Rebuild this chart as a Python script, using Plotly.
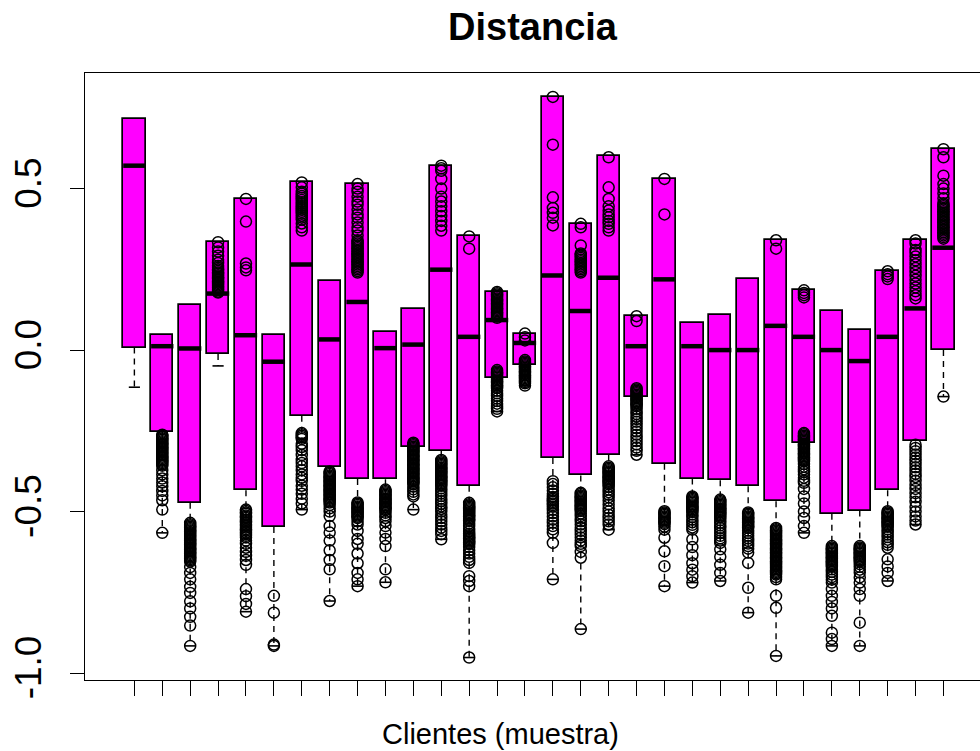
import plotly.graph_objects as go

# Boxplot de distancias por cliente (muestra de 30 clientes)
clientes = list(range(1, 31))

q1 = [0.008, -0.254, -0.473, -0.012, -0.434, -0.548, -0.203, -0.363, -0.399, -0.400,
      -0.300, -0.311, -0.420, -0.087, -0.046, -0.334, -0.388, -0.324, -0.144, -0.352,
      -0.398, -0.403, -0.422, -0.468, -0.288, -0.507, -0.497, -0.434, -0.283, 0.000]
mediana = [0.571, 0.012, 0.005, 0.175, 0.046, -0.036, 0.265, 0.033, 0.149, 0.006,
           0.017, 0.249, 0.041, 0.093, 0.022, 0.231, 0.121, 0.224, 0.012, 0.219,
           0.012, 0.000, 0.000, 0.075, 0.041, 0.000, -0.034, 0.041, 0.129, 0.317]
q3 = [0.715, 0.046, 0.139, 0.334, 0.468, 0.046, 0.519, 0.214, 0.514, 0.057,
      0.126, 0.571, 0.352, 0.180, 0.051, 0.784, 0.391, 0.600, 0.105, 0.530,
      0.085, 0.108, 0.219, 0.340, 0.185, 0.121, 0.062, 0.244, 0.340, 0.622]
bigote_inf = [-0.115, -0.566, -0.916, -0.049, -0.810, -0.916, -0.494, -0.777, -0.731, -0.719,
              -0.494, -0.586, -0.952, -0.190, -0.110, -0.710, -0.864, -0.556, -0.324, -0.731,
              -0.720, -0.715, -0.813, -0.947, -0.566, -0.916, -0.916, -0.715, -0.540, -0.144]

# Observaciones marcadas sobre cada caja
puntos = [
    [],
    [-0.262, -0.266, -0.27, -0.274, -0.278, -0.282, -0.286, -0.29, -0.294, -0.298, -0.302, -0.306,
     -0.31, -0.314, -0.318, -0.322, -0.326, -0.33, -0.334, -0.338, -0.342, -0.346, -0.35, -0.354,
     -0.358, -0.372, -0.385, -0.398, -0.41, -0.422, -0.436, -0.45, -0.465, -0.494, -0.566],
    [-0.535, -0.539, -0.543, -0.547, -0.551, -0.555, -0.559, -0.563, -0.567, -0.571, -0.575,
     -0.579, -0.583, -0.587, -0.591, -0.595, -0.599, -0.603, -0.607, -0.611, -0.615, -0.619,
     -0.623, -0.627, -0.631, -0.635, -0.639, -0.643, -0.647, -0.651, -0.655, -0.672, -0.69,
     -0.71, -0.733, -0.752, -0.778, -0.8, -0.826, -0.853, -0.916],
    [0.334, 0.318, 0.305, 0.292, 0.28, 0.27, 0.26, 0.255, 0.25, 0.245, 0.24, 0.236, 0.232, 0.228,
     0.224, 0.22, 0.216, 0.212, 0.208, 0.204, 0.2, 0.196, 0.192, 0.188, 0.185, 0.181, 0.178],
    [0.468, 0.398, 0.268, 0.256, 0.247, -0.494, -0.498, -0.503, -0.507, -0.512, -0.516, -0.52,
     -0.525, -0.53, -0.535, -0.54, -0.545, -0.55, -0.555, -0.56, -0.565, -0.57, -0.575, -0.58,
     -0.59, -0.6, -0.612, -0.625, -0.637, -0.65, -0.665, -0.74, -0.762, -0.786, -0.81],
    [-0.761, -0.813, -0.912, -0.916],
    [0.519, 0.504, 0.49, 0.484, 0.477, 0.471, 0.465, 0.458, 0.452, 0.446, 0.44, 0.434, 0.428,
     0.422, 0.416, 0.41, 0.404, 0.392, 0.38, 0.37,
     -0.257, -0.261, -0.265, -0.27, -0.275, -0.29, -0.3, -0.31, -0.325, -0.34, -0.35, -0.36,
     -0.372, -0.385, -0.395, -0.405, -0.42, -0.432, -0.445, -0.46, -0.475, -0.494],
    [-0.376, -0.38, -0.384, -0.388, -0.392, -0.396, -0.4, -0.404, -0.408, -0.412, -0.416, -0.42,
     -0.424, -0.428, -0.432, -0.436, -0.44, -0.444, -0.448, -0.452, -0.456, -0.46, -0.464,
     -0.468, -0.472, -0.48, -0.49, -0.5, -0.514, -0.545, -0.565, -0.59, -0.62, -0.65, -0.679,
     -0.777],
    [0.514, 0.5, 0.49, 0.475, 0.46, 0.45, 0.435, 0.42, 0.41, 0.395, 0.38, 0.37, 0.355, 0.34, 0.335,
     0.33, 0.325, 0.32, 0.315, 0.31, 0.305, 0.3, 0.295, 0.29, 0.285, 0.28, 0.275, 0.27, 0.265,
     0.26, 0.255, 0.25, 0.245, 0.24,
     -0.472, -0.476, -0.48, -0.484, -0.488, -0.492, -0.496, -0.5, -0.504, -0.508, -0.512, -0.516,
     -0.52, -0.53, -0.54, -0.56, -0.585, -0.6, -0.63, -0.66, -0.69, -0.71, -0.731],
    [-0.432, -0.436, -0.44, -0.444, -0.448, -0.452, -0.456, -0.46, -0.464, -0.468, -0.472,
     -0.476, -0.48, -0.484, -0.488, -0.492, -0.496, -0.504, -0.512, -0.52, -0.53, -0.545, -0.565,
     -0.585, -0.607, -0.679, -0.719],
    [-0.287, -0.291, -0.295, -0.299, -0.303, -0.307, -0.311, -0.315, -0.319, -0.323, -0.327,
     -0.331, -0.335, -0.339, -0.343, -0.347, -0.351, -0.355, -0.359, -0.363, -0.367, -0.371,
     -0.375, -0.379, -0.383, -0.387, -0.391, -0.395, -0.399, -0.403, -0.407, -0.411, -0.415,
     -0.423, -0.431, -0.439, -0.447, -0.453, -0.494],
    [0.571, 0.563, 0.555, 0.53, 0.5, 0.475, 0.46, 0.445, 0.43, 0.415, 0.4, 0.385, 0.37,
     -0.34, -0.344, -0.348, -0.352, -0.356, -0.36, -0.364, -0.368, -0.372, -0.376, -0.38, -0.384,
     -0.388, -0.392, -0.396, -0.4, -0.404, -0.408, -0.412, -0.416, -0.42, -0.428, -0.436, -0.444,
     -0.452, -0.46, -0.468, -0.476, -0.484, -0.492, -0.5, -0.51, -0.52, -0.53, -0.54, -0.55,
     -0.56, -0.57, -0.586],
    [0.352, 0.314, -0.473, -0.477, -0.481, -0.485, -0.489, -0.493, -0.497, -0.501, -0.505, -0.509,
     -0.513, -0.517, -0.521, -0.525, -0.529, -0.537, -0.545, -0.553, -0.561, -0.569, -0.573,
     -0.577, -0.581, -0.585, -0.589, -0.593, -0.597, -0.601, -0.61, -0.62, -0.63, -0.64, -0.65,
     -0.659, -0.7, -0.715, -0.731, -0.952],
    [0.18, 0.176, 0.172, 0.168, 0.164, 0.16, 0.156, 0.152, 0.148, 0.144, 0.14, 0.136, 0.132,
     0.128, 0.124, 0.12, 0.116, 0.112, 0.108, 0.104, 0.1,
     -0.062, -0.066, -0.07, -0.074, -0.078, -0.082, -0.086, -0.09, -0.094, -0.098, -0.102,
     -0.106, -0.11, -0.114, -0.118, -0.126, -0.134, -0.142, -0.15, -0.158, -0.166, -0.174,
     -0.182, -0.19],
    [0.051, 0.04, 0.03, -0.031, -0.035, -0.039, -0.043, -0.047, -0.051, -0.055, -0.059, -0.063,
     -0.067, -0.071, -0.075, -0.079, -0.083, -0.087, -0.091, -0.095, -0.099, -0.103, -0.11],
    [0.784, 0.636, 0.473, 0.44, 0.425, 0.41, 0.386, -0.406, -0.415, -0.425, -0.435, -0.445, -0.455,
     -0.46, -0.465, -0.47, -0.475, -0.48, -0.485, -0.495, -0.505, -0.515, -0.525, -0.535, -0.545,
     -0.555, -0.566, -0.597, -0.71],
    [0.391, 0.38, 0.324, 0.299, 0.295, 0.29, 0.285, 0.28, 0.275, 0.27, 0.265, 0.26, 0.255, 0.25,
     0.245, 0.24, -0.442, -0.446, -0.45, -0.454, -0.458, -0.462, -0.466, -0.47, -0.474, -0.478,
     -0.482, -0.486, -0.49, -0.494, -0.498, -0.506, -0.514, -0.522, -0.53, -0.54, -0.55, -0.56,
     -0.57, -0.58, -0.59, -0.6, -0.607, -0.625, -0.643, -0.864],
    [0.597, 0.504, 0.468, 0.445, 0.432, 0.42, 0.411, 0.4, 0.391, 0.38, 0.37, -0.36, -0.364, -0.368,
     -0.372, -0.376, -0.38, -0.384, -0.388, -0.392, -0.396, -0.4, -0.404, -0.408, -0.412, -0.416,
     -0.424, -0.432, -0.44, -0.448, -0.456, -0.466, -0.478, -0.49, -0.5, -0.51, -0.52, -0.53,
     -0.54, -0.556],
    [0.105, 0.09, -0.118, -0.122, -0.126, -0.13, -0.134, -0.138, -0.142, -0.146, -0.15, -0.154,
     -0.158, -0.162, -0.166, -0.17, -0.174, -0.182, -0.19, -0.198, -0.206, -0.214, -0.222,
     -0.232, -0.242, -0.252, -0.262, -0.272, -0.282, -0.292, -0.302, -0.312, -0.324],
    [0.53, 0.42, -0.499, -0.503, -0.507, -0.511, -0.515, -0.519, -0.523, -0.527, -0.531, -0.535,
     -0.539, -0.547, -0.556, -0.581, -0.623, -0.669, -0.731],
    [-0.453, -0.457, -0.461, -0.465, -0.469, -0.473, -0.477, -0.481, -0.485, -0.489, -0.493,
     -0.497, -0.501, -0.509, -0.517, -0.525, -0.533, -0.541, -0.549, -0.556, -0.586, -0.61,
     -0.635, -0.66, -0.68, -0.7, -0.72],
    [-0.463, -0.467, -0.471, -0.475, -0.479, -0.483, -0.487, -0.491, -0.495, -0.499, -0.503,
     -0.507, -0.511, -0.515, -0.519, -0.527, -0.535, -0.543, -0.551, -0.559, -0.567, -0.575,
     -0.583, -0.59, -0.597, -0.617, -0.64, -0.665, -0.69, -0.715],
    [-0.503, -0.507, -0.511, -0.515, -0.519, -0.523, -0.527, -0.531, -0.535, -0.539, -0.543,
     -0.547, -0.551, -0.559, -0.567, -0.575, -0.583, -0.591, -0.599, -0.607, -0.615, -0.627,
     -0.659, -0.736, -0.813],
    [0.34, 0.314, -0.551, -0.555, -0.559, -0.563, -0.567, -0.571, -0.575, -0.579, -0.583, -0.587,
     -0.591, -0.595, -0.599, -0.603, -0.607, -0.611, -0.615, -0.619, -0.623, -0.627, -0.631,
     -0.635, -0.639, -0.643, -0.647, -0.651, -0.655, -0.659, -0.663, -0.667, -0.671, -0.675,
     -0.679, -0.683, -0.687, -0.691, -0.695, -0.703, -0.71, -0.761, -0.798, -0.947],
    [0.185, 0.177, 0.17, 0.163, -0.257, -0.261, -0.265, -0.269, -0.273, -0.277, -0.281, -0.285,
     -0.289, -0.293, -0.297, -0.301, -0.305, -0.309, -0.313, -0.317, -0.321, -0.325, -0.329,
     -0.333, -0.337, -0.341, -0.345, -0.353, -0.361, -0.369, -0.377, -0.385, -0.395, -0.405,
     -0.411, -0.43, -0.453, -0.475, -0.5, -0.52, -0.545, -0.566],
    [-0.607, -0.611, -0.615, -0.619, -0.623, -0.627, -0.631, -0.635, -0.639, -0.643, -0.647,
     -0.651, -0.655, -0.659, -0.663, -0.667, -0.671, -0.679, -0.687, -0.695, -0.703, -0.711,
     -0.72, -0.74, -0.761, -0.78, -0.8, -0.823, -0.875, -0.895, -0.916],
    [-0.607, -0.611, -0.615, -0.619, -0.623, -0.627, -0.631, -0.635, -0.639, -0.643, -0.647,
     -0.651, -0.655, -0.663, -0.671, -0.68, -0.689, -0.704, -0.72, -0.74, -0.761, -0.844, -0.916],
    [0.244, 0.235, 0.228, 0.22, -0.499, -0.503, -0.507, -0.511, -0.515, -0.519, -0.523, -0.527,
     -0.531, -0.535, -0.539, -0.543, -0.547, -0.555, -0.563, -0.571, -0.579, -0.587, -0.595,
     -0.603, -0.612, -0.648, -0.67, -0.69, -0.715],
    [0.34, 0.33, 0.31, 0.302, 0.29, 0.278, 0.266, 0.254, 0.242, 0.23, 0.218, 0.206, 0.194, 0.182,
     0.17, 0.16, -0.293, -0.303, -0.313, -0.323, -0.333, -0.343, -0.353, -0.363, -0.373, -0.383,
     -0.393, -0.405, -0.418, -0.43, -0.443, -0.456, -0.47, -0.485, -0.5, -0.515, -0.528, -0.54],
    [0.622, 0.597, 0.54, 0.514, 0.5, 0.485, 0.47, 0.455, 0.45, 0.445, 0.44, 0.435, 0.43, 0.425,
     0.42, 0.415, 0.41, 0.405, 0.4, 0.395, 0.39, 0.385, 0.38, 0.375, 0.37, 0.365, 0.36, 0.355,
     0.35, 0.345, -0.144],
]

ticks_y = [-1.0, -0.5, 0.0, 0.5]
etiquetas_y = ["-1.0", "-0.5", "0.0", "0.5"]

ANCHO_CAJA = 0.8
ANCHO_TOPE = 0.4
MAGENTA = "#FF00FF"
FUENTE = "Liberation Sans, Arial, sans-serif"

fig = go.Figure()

# Cajas (Q1 a Q3)
fig.add_trace(go.Bar(
    x=clientes, base=q1, y=[b - a for a, b in zip(q1, q3)], width=ANCHO_CAJA,
    marker=dict(color=MAGENTA, line=dict(color="black", width=1.7)),
    hoverinfo="skip", showlegend=False,
))

# Bigotes inferiores discontinuos y sus topes
bx, by, tx, ty = [], [], [], []
for c, a, w in zip(clientes, q1, bigote_inf):
    bx += [c, c, None]
    by += [a, w, None]
    tx += [c - ANCHO_TOPE / 2, c + ANCHO_TOPE / 2, None]
    ty += [w, w, None]
fig.add_trace(go.Scatter(x=bx, y=by, mode="lines",
                         line=dict(color="black", width=1.4, dash="6px,5px"),
                         hoverinfo="skip", showlegend=False))
fig.add_trace(go.Scatter(x=tx, y=ty, mode="lines",
                         line=dict(color="black", width=1.6),
                         hoverinfo="skip", showlegend=False))

# Medianas
mx, my = [], []
for c, m in zip(clientes, mediana):
    mx += [c - ANCHO_CAJA / 2, c + ANCHO_CAJA / 2, None]
    my += [m, m, None]
fig.add_trace(go.Scatter(x=mx, y=my, mode="lines",
                         line=dict(color="black", width=4.5),
                         hoverinfo="skip", showlegend=False))

# Puntos individuales
px_, py_ = [], []
for c, vals in zip(clientes, puntos):
    px_ += [c] * len(vals)
    py_ += vals
fig.add_trace(go.Scatter(x=px_, y=py_, mode="markers",
                         marker=dict(symbol="circle-open", size=11, color="black",
                                     line=dict(width=1.5, color="black")),
                         showlegend=False))

fig.update_layout(
    width=980, height=751,
    margin=dict(l=85, r=0, t=73, b=71),
    paper_bgcolor="white", plot_bgcolor="white",
    font=dict(family=FUENTE, color="black"),
    title=dict(text="<b>Distancia</b>", x=0.5, xref="paper", xanchor="center",
               y=1 - 27 / 751, yref="container", yanchor="middle",
               font=dict(size=38, family=FUENTE, color="black")),
    bargap=0,
    annotations=[dict(
        text="Clientes (muestra)", xref="paper", yref="paper",
        x=(500 - 85) / 895, y=-(734 - 680) / 607, xanchor="center", yanchor="middle",
        showarrow=False, font=dict(size=29, family=FUENTE, color="black"),
    )],
)

fig.update_xaxes(
    range=[-0.77, 31.31], tickvals=clientes, showticklabels=False,
    ticks="outside", ticklen=15, tickwidth=1.3, tickcolor="black",
    showline=True, linecolor="black", linewidth=1.3, mirror=True,
    showgrid=False, zeroline=False,
)
fig.update_yaxes(
    range=[-1.0216, 0.858], tickvals=ticks_y, ticktext=etiquetas_y, tickangle=-90,
    tickfont=dict(size=37),
    ticks="outside", ticklen=14, tickwidth=1.3, tickcolor="black",
    ticklabelstandoff=14,
    showline=True, linecolor="black", linewidth=1.3, mirror=False,
    showgrid=False, zeroline=False,
)

fig.write_html("out.html")
